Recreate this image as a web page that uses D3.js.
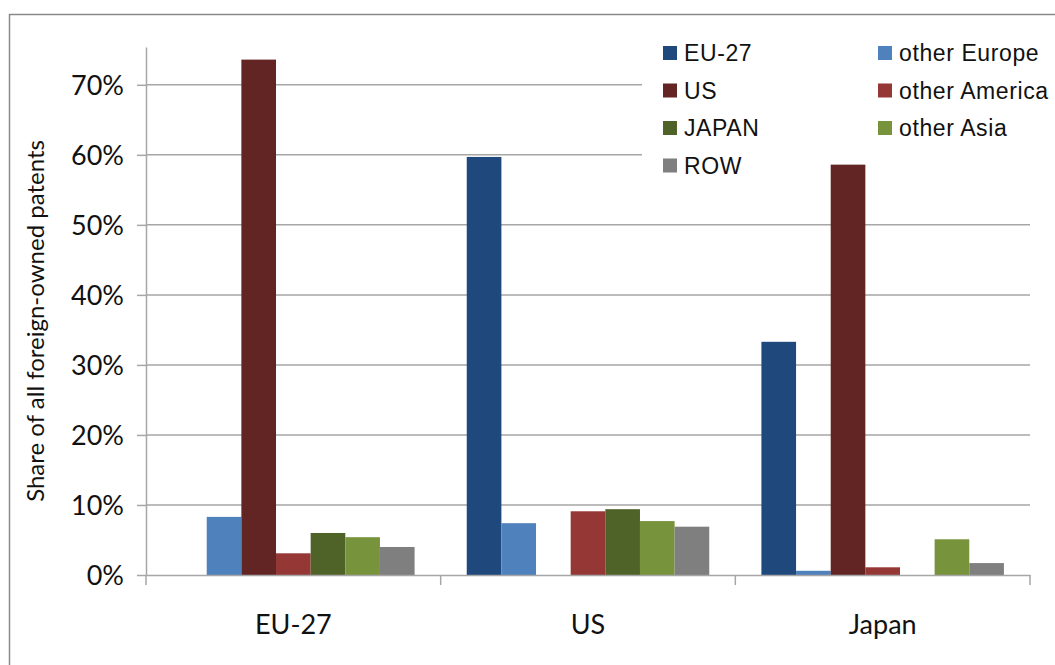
<!DOCTYPE html>
<html>
<head>
<meta charset="utf-8">
<script src="https://cdn.jsdelivr.net/npm/d3@7"></script>
<style>
html,body{margin:0;padding:0;background:#fff;}
svg{display:block;}
</style>
</head>
<body>
<svg id="chart" width="1055" height="665"></svg>
<script>
const categories = ["EU-27", "US", "Japan"];
const seriesNames = ["EU-27", "other Europe", "US", "other America", "JAPAN", "other Asia", "ROW"];
const seriesColors = ["#1F497D", "#4F81BD", "#632523", "#953735", "#4F6228", "#77933C", "#7F7F7F"];
// values per category (share), order follows seriesNames
const valuesEU27 = [0.0, 0.083, 0.736, 0.031, 0.060, 0.054, 0.040];
const valuesUS = [0.597, 0.074, 0.0, 0.091, 0.094, 0.077, 0.069];
const valuesJapan = [0.333, 0.006, 0.586, 0.011, 0.0, 0.051, 0.017];
const yTicks = [0, 0.1, 0.2, 0.3, 0.4, 0.5, 0.6, 0.7];
const yTitle = "Share of all foreign-owned patents";

const allValues = [valuesEU27, valuesUS, valuesJapan];
const svg = d3.select("#chart");

const x0 = d3.scaleBand().domain(categories).range([146, 1030]).padding(0);
const bw = x0.bandwidth();
const x1 = d3.scaleBand().domain(seriesNames).range([bw * 0.0885, bw * 0.9115]).padding(0);
const y = d3.scaleLinear().domain([0, 0.754]).range([575, 47]);
const color = d3.scaleOrdinal().domain(seriesNames).range(seriesColors);

// outer border (top & left)
svg.append("path").attr("d", "M9.5,665 L9.5,14.5 L1055,14.5")
  .attr("fill", "none").attr("stroke", "#8a8a8a").attr("stroke-width", 1.5);

// gridlines
svg.append("g").selectAll("line").data(yTicks.filter(d => d > 0)).join("line")
  .attr("x1", 146).attr("x2", 1030)
  .attr("y1", d => y(d)).attr("y2", d => y(d))
  .attr("stroke", "#a6a6a6").attr("stroke-width", 1.5);

// legend background (covers gridlines)
svg.append("rect").attr("x", 642).attr("y", 30).attr("width", 413).attr("height", 132).attr("fill", "#fff");

// y axis
const yAxis = d3.axisLeft(y).tickValues(yTicks).tickFormat(d3.format(".0%")).tickSize(9).tickSizeOuter(0);
const gy = svg.append("g").attr("transform", "translate(146,0)").call(yAxis);
gy.select(".domain").attr("stroke", "#a6a6a6").attr("stroke-width", 1.5);
gy.selectAll(".tick line").attr("stroke", "#a6a6a6").attr("stroke-width", 1.5);
gy.selectAll(".tick text").attr("font-family", "Lato, 'Open Sans', sans-serif").attr("font-size", 27)
  .attr("fill", "#111").attr("x", -22).attr("dy", "0.36em");

// bars
const groups = svg.append("g").selectAll("g").data(categories).join("g")
  .attr("transform", d => `translate(${x0(d)},0)`);
groups.selectAll("rect").data((d, i) => seriesNames.map((s, j) => ({s, v: allValues[i][j]})))
  .join("rect")
  .attr("x", d => x1(d.s)).attr("width", x1.bandwidth())
  .attr("y", d => y(d.v)).attr("height", d => y(0) - y(d.v) + 1)
  .attr("fill", d => color(d.s));

// x axis
const xAxis = d3.axisBottom(x0).tickSize(0).tickSizeOuter(0);
const gx = svg.append("g").attr("transform", "translate(0,575)").call(xAxis);
gx.select(".domain").attr("stroke", "#a6a6a6").attr("stroke-width", 1.5);
gx.selectAll(".tick text").attr("font-family", "Lato, 'Open Sans', sans-serif").attr("font-size", 27)
  .attr("fill", "#111").attr("y", 40);
// category boundary ticks
const bounds = categories.map(c => x0(c)).concat([x0(categories[categories.length - 1]) + bw]);
svg.append("g").selectAll("line").data(bounds).join("line")
  .attr("x1", d => d).attr("x2", d => d).attr("y1", 575).attr("y2", 585)
  .attr("stroke", "#a6a6a6").attr("stroke-width", 1.5);

// y title
svg.append("text").attr("transform", "translate(44,321) rotate(-90)")
  .attr("text-anchor", "middle").attr("font-family", "Lato, 'Open Sans', sans-serif")
  .attr("font-size", 24).attr("fill", "#111").text(yTitle);

// legend
const legendOrder = ["EU-27", "US", "JAPAN", "ROW", "other Europe", "other America", "other Asia"];
const leg = svg.append("g");
const li = leg.selectAll("g").data(legendOrder).join("g")
  .attr("transform", (d, i) => {
    const col = i < 4 ? 0 : 1;
    const row = i < 4 ? i : i - 4;
    return `translate(${col === 0 ? 663 : 878},${53 + row * 37.5})`;
  });
li.append("rect").attr("x", 0).attr("y", -7).attr("width", 14).attr("height", 14).attr("fill", d => color(d));
li.append("text").attr("x", 21).attr("dy", "0.36em")
  .attr("font-family", "'Liberation Sans', Arial, sans-serif").attr("font-size", 23)
  .attr("letter-spacing", 0.6)
  .attr("fill", "#111").text(d => d);
</script>
</body>
</html>
